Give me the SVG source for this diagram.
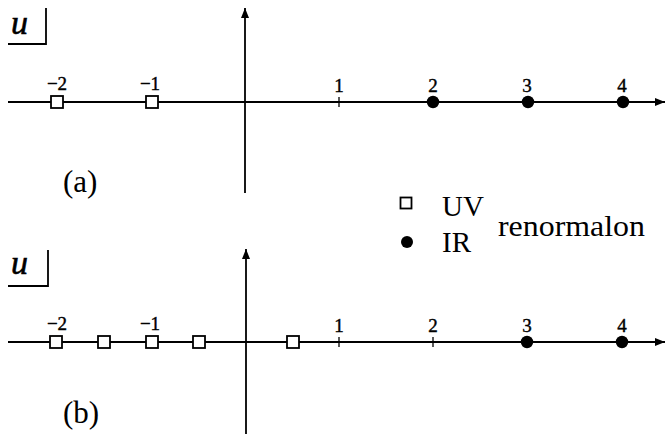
<svg xmlns="http://www.w3.org/2000/svg" width="666" height="434" viewBox="0 0 666 434">
<style>
.ax{stroke:#000;stroke-width:1.8;fill:none}
.tk{stroke:#000;stroke-width:1.3}
.sq{fill:#fff;stroke:#000;stroke-width:1.8}
.dt{fill:#000}
.num{font-family:"Liberation Serif","DejaVu Serif",serif;font-size:19px;text-anchor:middle;fill:#000;stroke:#000;stroke-width:0.4}
.big{font-family:"Liberation Serif","DejaVu Serif",serif;font-size:29px;fill:#000}
.lab{font-family:"Liberation Serif","DejaVu Serif",serif;font-size:31px;fill:#000}
.u{font-family:"Liberation Serif","DejaVu Serif",serif;font-style:italic;font-size:34px;fill:#000;stroke:#000;stroke-width:0.6}
</style>
<defs>
<marker id="arr" viewBox="0 0 10 10" refX="10" refY="5" markerWidth="10" markerHeight="10" markerUnits="userSpaceOnUse" orient="auto">
<path d="M0,1 L10,5 L0,9 Z" fill="#000"/>
</marker>
<rect id="s" x="-6" y="-6" width="12" height="12" class="sq"/>
<circle id="d" r="6.2" class="dt"/>
</defs>
<g id="connectors">
<line class="ax" x1="8" y1="102" x2="665" y2="102" marker-end="url(#arr)"/>
<line class="ax" x1="245" y1="193" x2="245" y2="8" marker-end="url(#arr)"/>
<line class="ax" x1="8" y1="342" x2="665" y2="342" marker-end="url(#arr)"/>
<line class="ax" x1="246" y1="434" x2="246" y2="249" marker-end="url(#arr)"/>
<polyline class="ax" points="8,44 46,44 46,8"/>
<polyline class="ax" points="8,286 48,286 48,250"/>
</g>
<g id="panel-a">
<text class="u" x="11" y="34">u</text>
<line class="tk" x1="339" y1="97" x2="339" y2="107"/>
<use href="#s" x="57" y="102"/>
<use href="#s" x="152" y="102"/>
<use href="#d" x="433" y="102"/>
<use href="#d" x="528" y="102"/>
<use href="#d" x="623" y="102"/>
<text class="num" x="57" y="90">−2</text>
<text class="num" x="150" y="90">−1</text>
<text class="num" x="339" y="92">1</text>
<text class="num" x="433" y="92">2</text>
<text class="num" x="527" y="92">3</text>
<text class="num" x="622" y="92">4</text>
<text class="lab" x="63" y="192">(a)</text>
</g>
<g id="legend">
<rect x="400.5" y="197.5" width="11" height="11" class="sq"/>
<circle cx="407" cy="242" r="6" class="dt"/>
<text class="big" x="442" y="216">UV</text>
<text class="big" x="442" y="252">IR</text>
<text class="big" x="498" y="236" textLength="147" lengthAdjust="spacingAndGlyphs">renormalon</text>
</g>
<g id="panel-b">
<text class="u" x="11" y="274">u</text>
<line class="tk" x1="339" y1="337" x2="339" y2="347"/>
<line class="tk" x1="433" y1="337" x2="433" y2="347"/>
<use href="#s" x="56" y="342"/>
<use href="#s" x="104" y="342"/>
<use href="#s" x="152" y="342"/>
<use href="#s" x="199" y="342"/>
<use href="#s" x="293" y="342"/>
<use href="#d" x="527" y="342"/>
<use href="#d" x="622" y="342"/>
<text class="num" x="57" y="330">−2</text>
<text class="num" x="150" y="330">−1</text>
<text class="num" x="339" y="332">1</text>
<text class="num" x="433" y="332">2</text>
<text class="num" x="527" y="332">3</text>
<text class="num" x="622" y="332">4</text>
<text class="lab" x="63" y="423">(b)</text>
</g>
</svg>
